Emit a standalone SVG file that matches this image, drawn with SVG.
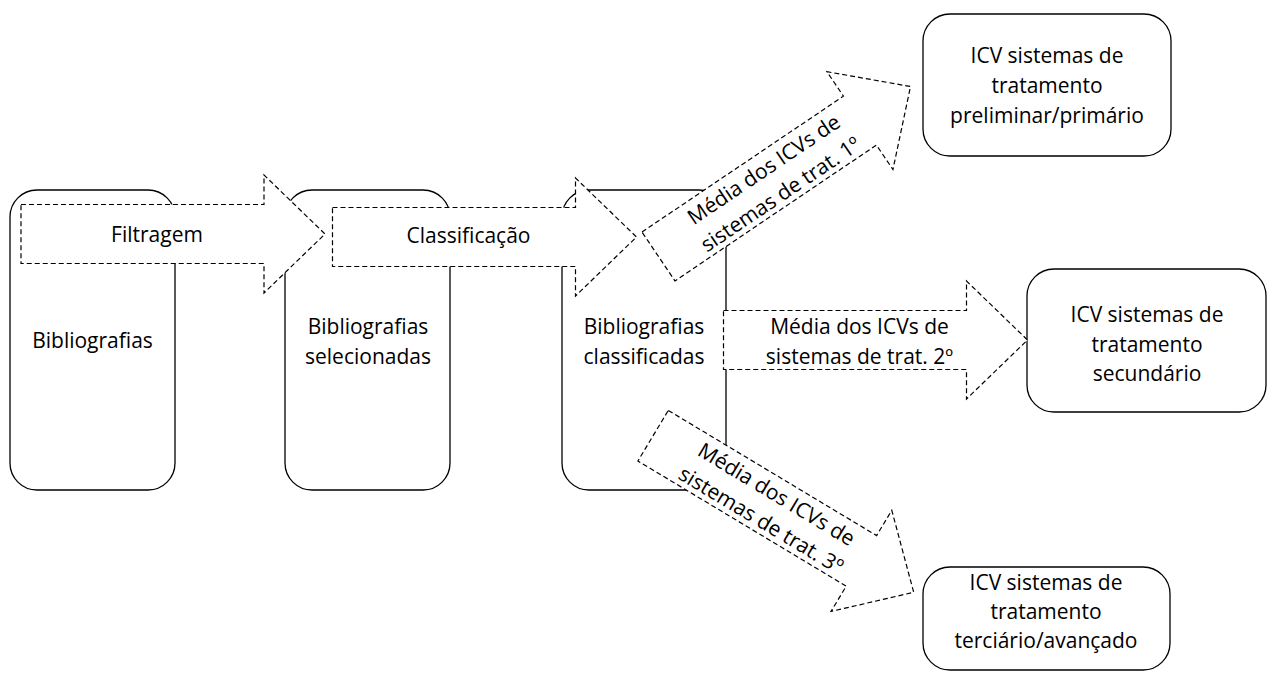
<svg xmlns="http://www.w3.org/2000/svg" width="1268" height="675" viewBox="0 0 1268 675">
  <defs>
    <style>
      .box { fill: #ffffff; stroke: #000000; stroke-width: 1.3; }
      .arrow { fill: #ffffff; stroke: #000000; stroke-width: 1.2; stroke-dasharray: 5 3; }
      text { font-family: "Open Sans", "Liberation Sans", sans-serif; font-size: 21px; fill: #000000; text-anchor: middle; }
    </style>
    <path id="blockArrow" d="M-152,-29.5 H91 V-59 L152,0 L91,59 V29.5 H-152 Z"/>
  </defs>
  <rect width="1268" height="675" fill="#ffffff"/>

  <g id="node-bibliografias">
    <rect class="box" x="10" y="190" width="165" height="300" rx="27" ry="27"/>
    <text x="92.5" y="348">Bibliografias</text>
  </g>
  <g id="node-selecionadas">
    <rect class="box" x="285" y="190" width="165" height="300" rx="27" ry="27"/>
    <text x="368" y="334">Bibliografias</text>
    <text x="368" y="364">selecionadas</text>
  </g>
  <g id="node-classificadas">
    <rect class="box" x="562" y="190" width="164" height="300" rx="27" ry="27"/>
    <text x="644" y="334">Bibliografias</text>
    <text x="644" y="364">classificadas</text>
  </g>
  <g id="node-primario">
    <rect class="box" x="923" y="14" width="248" height="142" rx="27" ry="27"/>
    <text x="1047" y="63">ICV sistemas de</text>
    <text x="1047" y="93">tratamento</text>
    <text x="1047" y="123">preliminar/primário</text>
  </g>
  <g id="node-secundario">
    <rect class="box" x="1027" y="269" width="239" height="143" rx="27" ry="27"/>
    <text x="1147" y="322">ICV sistemas de</text>
    <text x="1147" y="352">tratamento</text>
    <text x="1147" y="381">secundário</text>
  </g>
  <g id="node-terciario">
    <rect class="box" x="923" y="567" width="247" height="103" rx="27" ry="27"/>
    <text x="1046" y="590">ICV sistemas de</text>
    <text x="1046" y="619">tratamento</text>
    <text x="1046" y="648">terciário/avançado</text>
  </g>

  <g id="connectors">
    <g id="arrow-filtragem" transform="translate(173,234)">
      <use href="#blockArrow" class="arrow"/>
      <text x="-16" y="8">Filtragem</text>
    </g>
    <g id="arrow-classificacao" transform="translate(484.5,237)">
      <use href="#blockArrow" class="arrow"/>
      <text x="-16" y="6">Classificação</text>
    </g>
    <g id="arrow-1" transform="translate(784.5,171.5) rotate(-34)">
      <use href="#blockArrow" class="arrow"/>
      <text x="-16" y="-6">Média dos ICVs de</text>
      <text x="-16" y="24">sistemas de trat. 1º</text>
    </g>
    <g id="arrow-2" transform="translate(875.5,340)">
      <use href="#blockArrow" class="arrow"/>
      <text x="-16" y="-6">Média dos ICVs de</text>
      <text x="-16" y="24">sistemas de trat. 2º</text>
    </g>
    <g id="arrow-3" transform="translate(783.4,514) rotate(31)">
      <use href="#blockArrow" class="arrow"/>
      <text x="-16" y="-6">Média dos ICVs de</text>
      <text x="-16" y="24">sistemas de trat. 3º</text>
    </g>
  </g>
</svg>
